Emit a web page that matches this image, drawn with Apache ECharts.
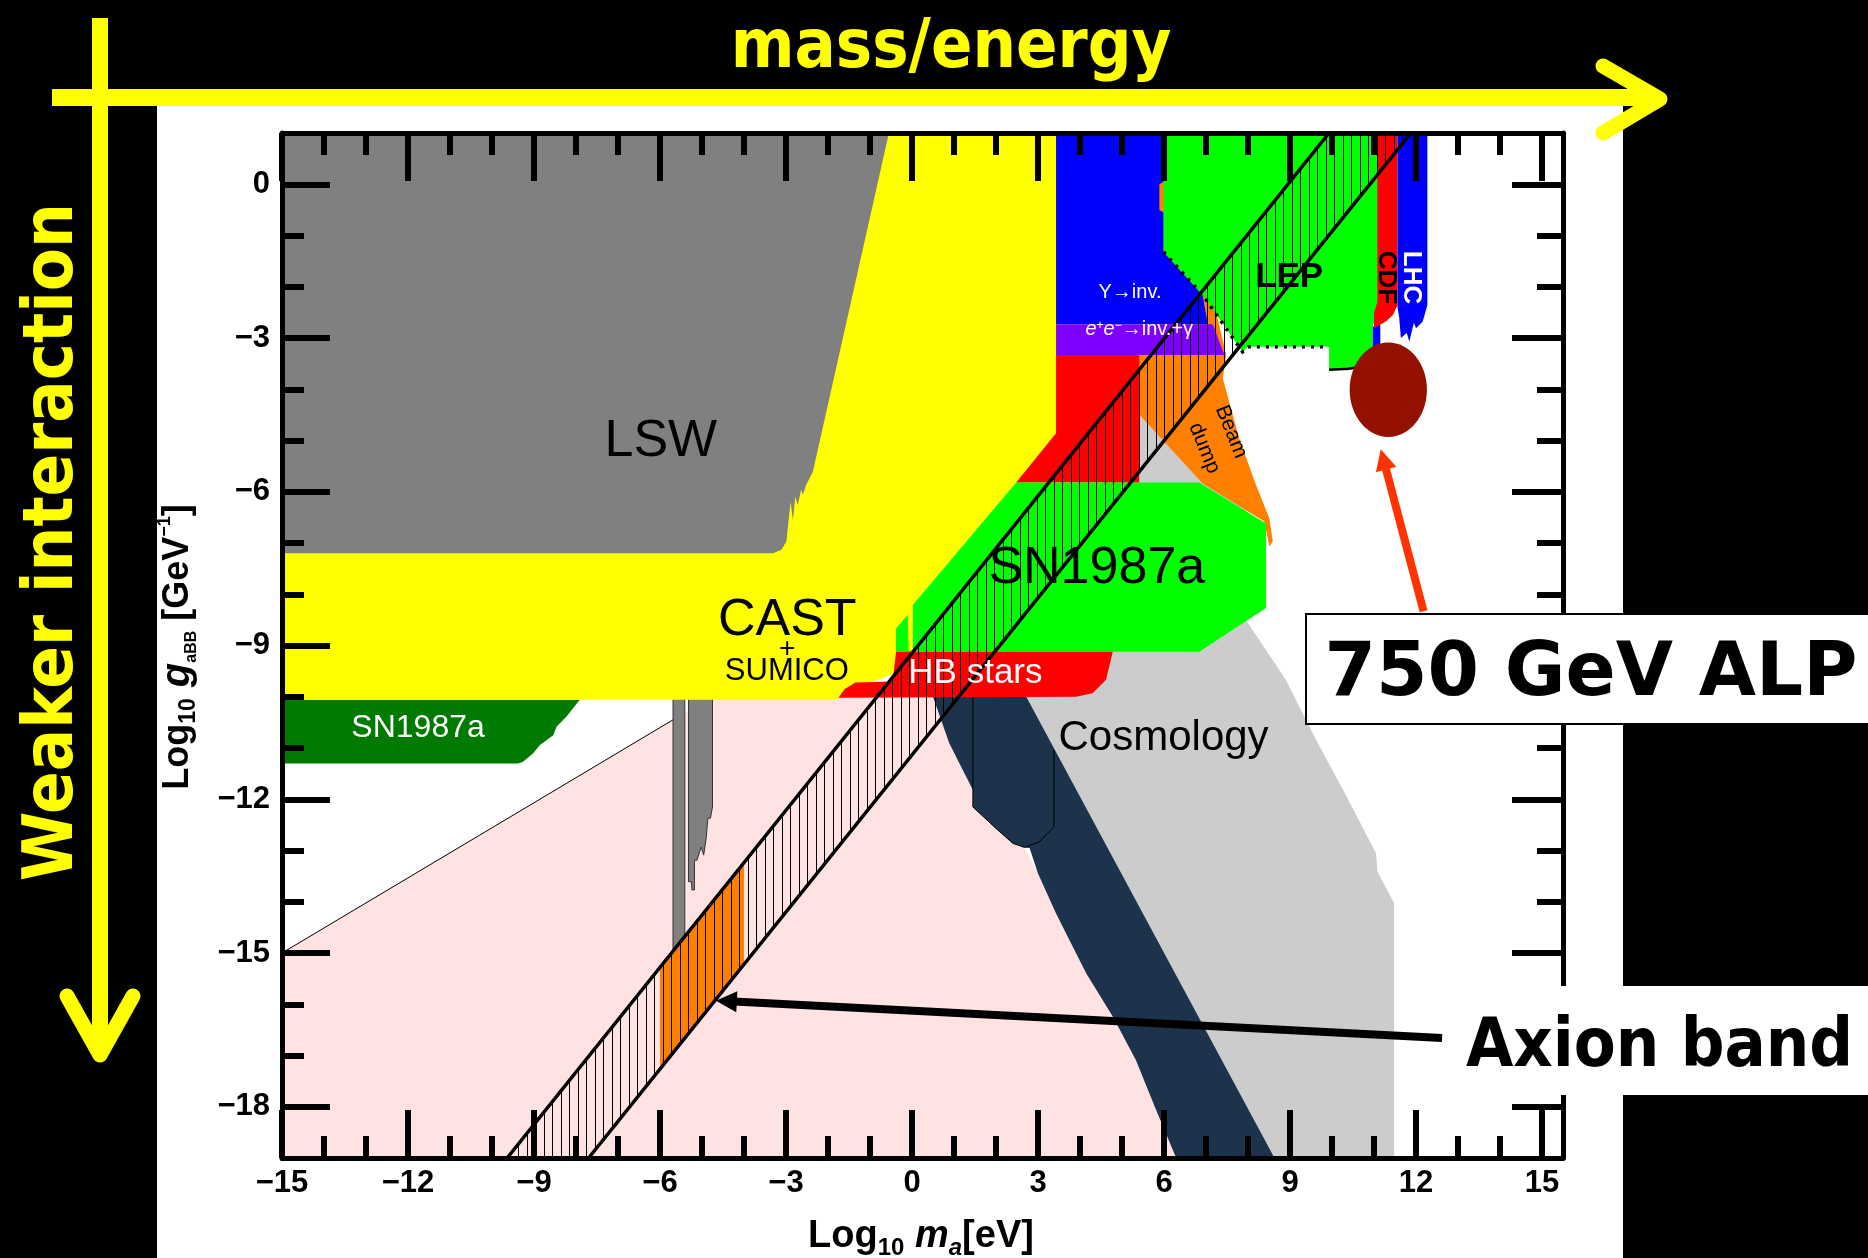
<!DOCTYPE html>
<html><head><meta charset="utf-8">
<script src="https://cdn.jsdelivr.net/npm/echarts@6/dist/echarts.min.js"></script>
<style>html,body{margin:0;padding:0;background:#000;}#c{width:1868px;height:1258px;}</style>
</head><body><div id="c"></div>
<script>
// ---- axes: x = log10(m_a / eV), y = log10(g / GeV^-1)
const xRange = [-15, 15.5];
const yRange = [-19, 1];
const xMajorTicks = [-15,-12,-9,-6,-3,0,3,6,9,12,15];
const xMinorTicks = [-14,-13,-11,-10,-8,-7,-5,-4,-2,-1,1,2,4,5,7,8,10,11,13,14];
const yMajorTicks = [-18,-15,-12,-9,-6,-3,0];
const yMinorTicks = [-17,-16,-14,-13,-11,-10,-8,-7,-5,-4,-2,-1];

// ---- exclusion regions (vertices in data coordinates)
const cosmology = [[5.2,-4.3],[6.0,-4.3],[7.5,-5.5],[8.3,-7.0],[8.3,-8.0],[7.95,-8.5],[8.90,-9.67],[9.62,-10.84],[10.35,-11.95],[11.05,-13.06],[11.08,-13.41],[11.48,-14.03],[11.48,-19],[6.5,-19],[1.5,-10.5],[2.0,-9.0],[5.2,-5.0]];
const pinkRegion = [[-15,-19],[-15,-15],[-5.69,-10.45],[-5.32,-10.27],[-5.32,-10.0],[1.0,-10.0],[1.3,-11.0],[2.5,-12.7],[3.6,-14.3],[7.4,-19]];
const pinkEdge = [[-15,-15],[-5.69,-10.45]];
const navyBand = [[0.50,-10.0],[2.72,-10.0],[8.63,-19],[6.29,-19],[5.81,-18.06],[5.33,-17.09],[4.78,-16.24],[4.15,-15.40],[3.43,-14.23],[3.0,-13.45],[2.80,-12.95],[2.68,-12.94],[2.40,-12.86],[2.00,-12.57],[1.45,-12.15],[1.45,-11.82],[0.89,-10.91]];
const navyOutline = [[1.45,-10.0],[1.45,-12.15],[2.00,-12.57],[2.40,-12.86],[2.68,-12.94],[3.03,-12.83],[3.38,-12.54],[3.38,-11.04]];
const haloscopeA = [[-5.69,-10.0],[-5.41,-10.0],[-5.41,-15.0],[-5.69,-15.0]];
const haloscopeB = [[-5.32,-10.0],[-4.75,-10.0],[-4.75,-12.15],[-4.80,-12.37],[-4.86,-12.37],[-4.90,-12.76],[-4.96,-13.09],[-5.02,-12.93],[-5.12,-13.19],[-5.18,-13.19],[-5.18,-13.77],[-5.24,-13.77],[-5.25,-13.61],[-5.32,-13.61]];
const sn1987aLow = [[-15,-10.06],[-7.91,-10.06],[-8.23,-10.39],[-8.46,-10.58],[-8.54,-10.75],[-8.86,-10.94],[-9.02,-11.10],[-9.26,-11.27],[-9.38,-11.30],[-15,-11.30]];
const castSumico = [[-15,1],[3.45,1],[3.45,-4.9],[3.0,-5.9],[0.5,-8.3],[0.5,-9.2],[-0.3,-9.5],[-1.2,-9.8],[-1.65,-10.0],[-1.85,-10.06],[-15,-10.06]];
const lsw = [[-15,1],[-0.55,1],[-2.36,-5.61],[-2.52,-5.87],[-2.60,-6.06],[-2.64,-5.96],[-2.72,-6.26],[-2.78,-6.10],[-2.835,-6.55],[-2.89,-6.20],[-2.95,-6.65],[-2.99,-6.97],[-3.11,-7.13],[-3.31,-7.20],[-15,-7.20]];
const beamDump = [[5.85,0.1],[6.05,0.1],[7.24,-2.49],[7.48,-3.33],[7.40,-3.79],[7.79,-4.96],[8.19,-5.87],[8.51,-6.52],[8.59,-6.97],[8.51,-7.07],[8.39,-6.58],[6.92,-5.84],[5.35,-4.44],[5.35,-3.33],[5.85,-0.8]];
const redUpper = [[3.43,-3.33],[5.41,-3.33],[5.41,-5.82],[2.48,-5.82],[3.43,-4.86]];
const upsilonInv = [[3.43,1],[5.99,1],[5.99,0.05],[5.89,0.0],[5.89,-0.5],[5.99,-0.55],[5.99,-1.32],[6.92,-2.16],[7.04,-2.73],[3.43,-2.73]];
const eeInv = [[3.43,-2.73],[7.16,-2.73],[7.44,-3.33],[3.43,-3.33]];
const lep = [[5.99,1],[11.1,1],[11.1,-2.5],[10.97,-2.75],[10.97,-3.45],[10.6,-3.58],[9.93,-3.62],[9.93,-3.17],[8.0,-3.17],[7.87,-3.27],[6.92,-2.16],[5.99,-1.32]];
const lhcPatch = [[10.97,-2.78],[11.15,-2.74],[11.15,-3.4],[10.97,-3.4]];
const cdf = [[11.08,1],[11.56,1],[11.56,-2.36],[11.45,-2.55],[11.28,-2.68],[11.0,-2.81],[11.0,-2.5],[11.08,-2.3]];
const lhc = [[11.56,1],[12.27,1],[12.27,-2.36],[12.16,-2.68],[12.0,-2.81],[11.95,-2.7],[11.84,-3.07],[11.78,-2.9],[11.64,-3.0],[11.6,-2.6],[11.56,-2.4]];
const sn1987aHigh = [[-0.38,-9.12],[-0.38,-8.67],[-0.10,-8.40],[-0.08,-9.10],[0.02,-9.10],[0.02,-8.21],[2.48,-5.82],[6.84,-5.82],[8.43,-6.62],[8.43,-8.27],[6.84,-9.12]];
const hbStars = [[-1.75,-10.02],[-1.6,-9.85],[-1.35,-9.72],[-0.46,-9.70],[-0.38,-9.12],[4.78,-9.12],[4.62,-9.67],[4.30,-9.93],[3.91,-10.0]];
const axionBand = [[-9.64,-19],[9.93,1],[11.88,1],[-7.70,-19]];
const axionBandOrange = [[-6.0,-15.28],[-4.0,-13.24],[-4.0,-15.22],[-6.0,-17.26]];
const lepDotted = [[5.99,-1.32],[6.92,-2.16],[7.87,-3.27],[8.0,-3.17],[9.93,-3.17]];
const lepEdge = [[9.93,-3.62],[10.4,-3.60],[10.75,-3.55]];
const alpCenter = [11.34,-4.01];
const alpHalfSize = [0.92,0.92];
const alpArrow = [[12.18,-8.33],[11.16,-5.17]];
const bandArrow = [[12.62,-16.66],[-4.67,-15.93]];

// ---- in-plot labels
const plotLabelText = ['LSW','CAST','+','SUMICO','HB stars','SN1987a','SN1987a','Cosmology','\u03A5\u2192inv.','{i|e}{s|+}{i|e}{s|\u2212}{n|\u2192inv.+\u03B3}','LEP','CDF','LHC','Beam','dump'];
const plotLabelPos = [[-5.98,-5.03],[-2.97,-8.52],[-2.97,-9.07],[-2.98,-9.50],[1.51,-9.54],[4.40,-7.51],[-11.76,-10.62],[5.99,-10.82],[5.19,-2.11],[5.41,-2.84],[8.98,-1.82],[11.28,-1.82],[11.88,-1.82],[7.60,-4.83],[6.96,-5.15]];

const LS = '"Liberation Sans", Arial, Helvetica, sans-serif';
const COMIC = '"DejaVu Sans Condensed", "DejaVu Sans", sans-serif';
const plotLabelStyle = [
  {fs:52, c:'#000'}, {fs:52, c:'#000'}, {fs:28, c:'#000'}, {fs:31, c:'#000'},
  {fs:35, c:'#fff'}, {fs:52, c:'#000'}, {fs:32, c:'#fff'}, {fs:42, c:'#000'},
  {fs:20, c:'#fff'}, {fs:20, c:'#fff', rich:true}, {fs:35, c:'#000', w:'bold'},
  {fs:26, c:'#000', w:'bold', rot:-Math.PI/2}, {fs:26, c:'#fff', w:'bold', rot:-Math.PI/2},
  {fs:21, c:'#000', rot:-68*Math.PI/180}, {fs:21, c:'#000', rot:-68*Math.PI/180}
];

// hatch pattern for the axion band
const hatch = document.createElement('canvas');
hatch.width = 17; hatch.height = 8;
(function(){ const g = hatch.getContext('2d'); g.fillStyle = '#000'; g.fillRect(0,0,1,8); g.fillRect(8,0,1,8); })();

let zc = 10;
function area(verts, style) {
  const z = zc++;
  return {type:'custom', coordinateSystem:'cartesian2d', clip:true, silent:true, z:z,
    data: verts, encode:{x:0, y:1},
    renderItem: function(params, api){
      if (params.dataIndex !== 0) return null;
      return {type:'polygon', shape:{points: verts.map(v => api.coord(v))}, style: style};
    }};
}
function path(verts, style) {
  const z = zc++;
  return {type:'custom', coordinateSystem:'cartesian2d', clip:true, silent:true, z:z,
    data: verts, encode:{x:0, y:1},
    renderItem: function(params, api){
      if (params.dataIndex !== 0) return null;
      return {type:'polyline', shape:{points: verts.map(v => api.coord(v))}, style: Object.assign({fill:null}, style)};
    }};
}
function arrow(ends, color, width, headLen, headW) {
  return {type:'custom', coordinateSystem:'cartesian2d', clip:false, silent:true, z:100,
    data: ends, encode:{x:0, y:1},
    renderItem: function(params, api){
      if (params.dataIndex !== 0) return null;
      const a = api.coord(ends[0]), b = api.coord(ends[1]);
      const dx = b[0]-a[0], dy = b[1]-a[1], L = Math.hypot(dx, dy), ux = dx/L, uy = dy/L;
      const bx = b[0]-ux*headLen, by = b[1]-uy*headLen;
      return {type:'group', children:[
        {type:'line', shape:{x1:a[0], y1:a[1], x2:bx+ux*3, y2:by+uy*3}, style:{stroke:color, lineWidth:width}},
        {type:'polygon', shape:{points:[[b[0],b[1]],[bx-uy*headW/2, by+ux*headW/2],[bx+uy*headW/2, by-ux*headW/2]]}, style:{fill:color}}
      ]};
    }};
}

const series = [
  area(cosmology, {fill:'#cccccc'}),
  area(pinkRegion, {fill:'#ffe3e3'}),
  path(pinkEdge, {stroke:'#000', lineWidth:1}),
  area(navyBand, {fill:'#1c334b'}),
  path(navyOutline, {stroke:'#000', lineWidth:1}),
  area(haloscopeA, {fill:'#808080', stroke:'#333', lineWidth:1}),
  area(haloscopeB, {fill:'#808080', stroke:'#333', lineWidth:1}),
  area(sn1987aLow, {fill:'#007a00'}),
  area(castSumico, {fill:'#ffff00'}),
  area(lsw, {fill:'#808080'}),
  area(beamDump, {fill:'#ff8000'}),
  area(redUpper, {fill:'#ff0000'}),
  area(upsilonInv, {fill:'#0000ff'}),
  area(eeInv, {fill:'#8000ff'}),
  area(lep, {fill:'#00ff00'}),
  area(lhcPatch, {fill:'#0000ff'}),
  area(cdf, {fill:'#ff0000'}),
  area(lhc, {fill:'#0000ff'}),
  area(sn1987aHigh, {fill:'#00ff00'}),
  area(hbStars, {fill:'#ff0000'}),
  area(axionBandOrange, {fill:'#ff8000'}),
  area(axionBand, {fill:{image:hatch, repeat:'repeat'}, stroke:'#000', lineWidth:3.5}),
  path(lepDotted, {stroke:'#000', lineWidth:3.5, lineDash:[3,6]}),
  path(lepEdge, {stroke:'#000', lineWidth:2.5}),
  {type:'custom', coordinateSystem:'cartesian2d', clip:true, silent:true, z:40,
    data:[alpCenter], encode:{x:0, y:1},
    renderItem: function(params, api){
      const c = api.coord(alpCenter), s = api.size(alpHalfSize);
      return {type:'ellipse', shape:{cx:c[0], cy:c[1], rx:s[0], ry:s[1]}, style:{fill:'#941100'}};
    }},
  {type:'custom', coordinateSystem:'cartesian2d', clip:false, silent:true, z:45,
    data: plotLabelPos, encode:{x:0, y:1},
    renderItem: function(params, api){
      const i = params.dataIndex, st = plotLabelStyle[i], p = api.coord(plotLabelPos[i]);
      const font = {fontFamily:LS, fontSize:st.fs, fontWeight:st.w || 'normal'};
      const style = Object.assign({text: plotLabelText[i], fill: st.c, align:'center', verticalAlign:'middle', textAlign:'center', textVerticalAlign:'middle'}, font);
      if (st.rich) {
        style.rich = {
          i:{fontFamily:LS, fontSize:st.fs, fontStyle:'italic', fill:st.c},
          s:{fontFamily:LS, fontSize:12, fill:st.c, verticalAlign:'top', lineHeight:14},
          n:{fontFamily:LS, fontSize:st.fs, fill:st.c}
        };
      }
      return {type:'text', x:p[0], y:p[1], rotation: st.rot || 0, style: style};
    }},
  arrow(alpArrow, '#ff3300', 8, 21, 21),
  arrow(bandArrow, '#000000', 8, 21, 21)
];

const tickFmt = v => (v < 0 ? '\u2212' + (-v) : String(v));
function mkAxis(kind, pos, ticks, len, line, labels) {
  return {
    type:'value', position:pos, gridIndex:0, z:42,
    min: kind === 'x' ? xRange[0] : yRange[0],
    max: kind === 'x' ? xRange[1] : yRange[1],
    axisLine:{show:line, onZero:false, lineStyle:{color:'#000', width:5}},
    axisTick:{show:true, inside:true, length:len, customValues:ticks, lineStyle:{color:'#000', width:6}},
    axisLabel:{show:labels, customValues:ticks, formatter:tickFmt, color:'#000', fontFamily:LS, fontWeight:'bold', fontSize:31, margin: kind === 'x' ? 10 : 12},
    splitLine:{show:false}, minorTick:{show:false}, minorSplitLine:{show:false}, splitArea:{show:false}
  };
}

const option = {
  backgroundColor:'#000000',
  animation:false,
  grid:{left:282, top:133, width:1281, height:1025, containLabel:false, outerBoundsMode:'none', show:false},
  xAxis:[
    mkAxis('x','bottom', xMajorTicks, 48, true, true),
    mkAxis('x','bottom', xMinorTicks, 22, false, false),
    mkAxis('x','top', xMajorTicks, 48, true, false),
    mkAxis('x','top', xMinorTicks, 22, false, false)
  ],
  yAxis:[
    mkAxis('y','left', yMajorTicks, 48, true, true),
    mkAxis('y','left', yMinorTicks, 22, false, false),
    mkAxis('y','right', yMajorTicks, 51, true, false),
    mkAxis('y','right', yMinorTicks, 26, false, false)
  ],
  series: series,
  graphic:[
    {type:'rect', z:-1, shape:{x:157, y:106, width:1466, height:1152}, style:{fill:'#ffffff'}},
    {type:'polyline', z:60, shape:{points:[[52,97.5],[1655,97.5]]}, style:{stroke:'#ffff00', lineWidth:17, fill:null}},
    {type:'polyline', z:60, shape:{points:[[1603,66],[1660,99],[1603,133]]}, style:{stroke:'#ffff00', lineWidth:15, fill:null, lineCap:'round', lineJoin:'round'}},
    {type:'polyline', z:60, shape:{points:[[100,18],[100,1050]]}, style:{stroke:'#ffff00', lineWidth:16, fill:null}},
    {type:'polyline', z:60, shape:{points:[[67,996],[100,1055],[133,996]]}, style:{stroke:'#ffff00', lineWidth:15, fill:null, lineCap:'round', lineJoin:'round'}},
    {type:'text', z:60, x:951, y:49, style:{text:'mass/energy', fill:'#ffff00', font:'bold 68px ' + COMIC, align:'center', verticalAlign:'middle', textAlign:'center', textVerticalAlign:'middle'}},
    {type:'text', z:60, x:54, y:542, rotation:Math.PI/2, style:{text:'Weaker interaction', fill:'#ffff00', font:'bold 70px ' + COMIC, align:'center', verticalAlign:'middle', textAlign:'center', textVerticalAlign:'middle'}},
    {type:'rect', z:50, shape:{x:1306, y:614, width:600, height:110}, style:{fill:'#ffffff', stroke:'#000', lineWidth:2}},
    {type:'text', z:51, x:1591, y:676, style:{text:'750 GeV ALP', fill:'#000', font:'bold 74px "DejaVu Sans", sans-serif', align:'center', verticalAlign:'middle', textAlign:'center', textVerticalAlign:'middle'}},
    {type:'rect', z:50, shape:{x:1440, y:986, width:430, height:109}, style:{fill:'#ffffff'}},
    {type:'text', z:51, x:1466, y:1048, style:{text:'Axion band', fill:'#000', font:'bold 68px ' + COMIC, align:'left', verticalAlign:'middle', textAlign:'left', textVerticalAlign:'middle'}},
    {type:'text', z:60, x:921, y:1237, style:{
      text:'{b|Log}{bs|10}{bi| m}{bis|a}{b|[eV]}', align:'center', verticalAlign:'middle', textAlign:'center', textVerticalAlign:'middle', fill:'#000',
      rich:{
        b:{fontFamily:LS, fontWeight:'bold', fontSize:38, lineHeight:46, fill:'#000'},
        bs:{fontFamily:LS, fontWeight:'bold', fontSize:24, lineHeight:24, verticalAlign:'bottom', fill:'#000'},
        bi:{fontFamily:LS, fontWeight:'bold', fontStyle:'italic', fontSize:38, lineHeight:46, fill:'#000'},
        bis:{fontFamily:LS, fontWeight:'bold', fontStyle:'italic', fontSize:24, lineHeight:24, verticalAlign:'bottom', fill:'#000'}
      }}},
    {type:'text', z:60, x:178, y:647, rotation:Math.PI/2, style:{
      text:'{b|Log}{bs|10}{bi| g}{bss|aBB}{b| [GeV}{sup|\u22121}{b|]}', align:'center', verticalAlign:'middle', textAlign:'center', textVerticalAlign:'middle', fill:'#000',
      rich:{
        b:{fontFamily:LS, fontWeight:'bold', fontSize:36, lineHeight:44, fill:'#000'},
        bs:{fontFamily:LS, fontWeight:'bold', fontSize:23, lineHeight:23, verticalAlign:'bottom', fill:'#000'},
        bi:{fontFamily:LS, fontWeight:'bold', fontStyle:'italic', fontSize:40, lineHeight:44, fill:'#000'},
        bss:{fontFamily:LS, fontWeight:'bold', fontSize:16, lineHeight:18, verticalAlign:'bottom', fill:'#000'},
        sup:{fontFamily:LS, fontWeight:'bold', fontSize:18, lineHeight:20, verticalAlign:'top', fill:'#000'}
      }}}
  ]
};

const chart = echarts.init(document.getElementById('c'), null, {renderer:'canvas', width:1868, height:1258});
chart.setOption(option);
</script></body></html>
